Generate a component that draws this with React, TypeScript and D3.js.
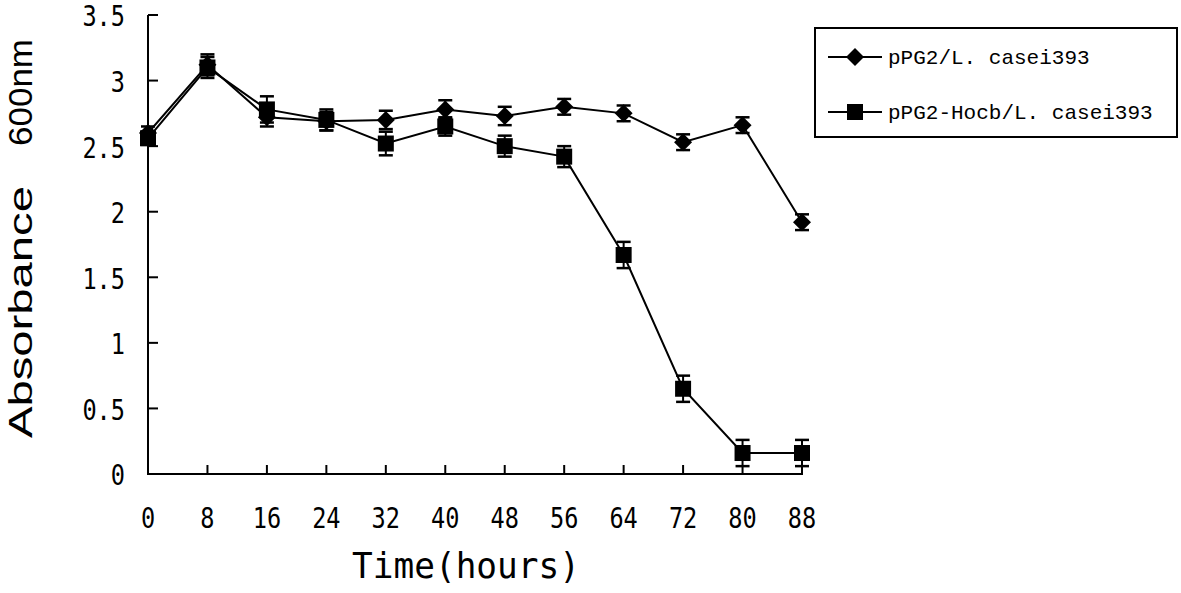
import React, { useEffect, useRef } from "react";
import * as d3 from "d3";

const hours = [0, 8, 16, 24, 32, 40, 48, 56, 64, 72, 80, 88];
const controlValues = [2.6, 3.12, 2.72, 2.69, 2.7, 2.78, 2.73, 2.8, 2.75, 2.53, 2.66, 1.92];
const controlErrors = [0.05, 0.08, 0.07, 0.07, 0.07, 0.07, 0.07, 0.06, 0.06, 0.06, 0.06, 0.06];
const hocbValues = [2.56, 3.1, 2.78, 2.7, 2.52, 2.65, 2.5, 2.42, 1.67, 0.65, 0.16, 0.16];
const hocbErrors = [0.05, 0.08, 0.1, 0.08, 0.09, 0.07, 0.08, 0.08, 0.1, 0.1, 0.1, 0.1];
const yTicks = [0, 0.5, 1, 1.5, 2, 2.5, 3, 3.5];
const yTickLabels = ["0", "0.5", "1", "1.5", "2", "2.5", "3", "3.5"];
const seriesNames = ["pPG2/L. casei393", "pPG2-Hocb/L. casei393"];
const xTitle = "Time(hours)";
const yTitleWords = ["Absorbance", "600nm"];

export default function App() {
  const ref = useRef<SVGSVGElement>(null);

  useEffect(() => {
    const svg = d3.select(ref.current);
    svg.selectAll("*").remove();

    const x = d3.scaleLinear().domain([0, 88]).range([148, 802]);
    const y = d3.scaleLinear().domain([0, 3.5]).range([474, 15]);
    const tickFont = "'DejaVu Sans Mono', monospace";
    const charW = 14.2;

    // axes lines
    svg.append("line").attr("x1", 148).attr("x2", 148).attr("y1", y(3.5)).attr("y2", y(0))
      .attr("stroke", "#000").attr("stroke-width", 2);
    svg.append("line").attr("x1", 147).attr("x2", x(88) + 1).attr("y1", y(0)).attr("y2", y(0))
      .attr("stroke", "#000").attr("stroke-width", 2);

    // y ticks
    yTicks.forEach((t, i) => {
      svg.append("line").attr("x1", 148).attr("x2", 158).attr("y1", y(t)).attr("y2", y(t))
        .attr("stroke", "#000").attr("stroke-width", 2);
      const lbl = yTickLabels[i];
      svg.append("text").attr("x", 125 - lbl.length * charW).attr("y", y(t) + 1).attr("dy", "0.36em")
        .attr("font-family", tickFont).attr("font-size", 29)
        .attr("textLength", lbl.length * charW).attr("lengthAdjust", "spacingAndGlyphs")
        .attr("fill", "#000").text(lbl);
    });

    // x ticks
    hours.forEach((h) => {
      svg.append("line").attr("x1", x(h)).attr("x2", x(h)).attr("y1", y(0)).attr("y2", y(0) - 9)
        .attr("stroke", "#000").attr("stroke-width", 2);
      const lbl = String(h);
      svg.append("text").attr("x", x(h) - (lbl.length * charW) / 2).attr("y", 518).attr("dy", "0.36em")
        .attr("font-family", tickFont).attr("font-size", 29)
        .attr("textLength", lbl.length * charW).attr("lengthAdjust", "spacingAndGlyphs")
        .attr("fill", "#000").text(lbl);
    });

    // titles
    svg.append("text").attr("x", 352).attr("y", 578)
      .attr("font-family", tickFont).attr("font-size", 36)
      .attr("textLength", 228).attr("lengthAdjust", "spacingAndGlyphs")
      .attr("fill", "#000").text(xTitle);

    const yTitleFont = "'Liberation Sans', Arial, sans-serif";
    svg.append("text").attr("transform", "translate(32,438) rotate(-90)")
      .attr("font-family", yTitleFont).attr("font-size", 33)
      .attr("textLength", 252).attr("lengthAdjust", "spacingAndGlyphs")
      .attr("fill", "#000").text(yTitleWords[0]);
    svg.append("text").attr("transform", "translate(32,146) rotate(-90)")
      .attr("font-family", yTitleFont).attr("font-size", 33)
      .attr("textLength", 107).attr("lengthAdjust", "spacingAndGlyphs")
      .attr("fill", "#000").text(yTitleWords[1]);

    const line = d3.line<number>().x((_, i) => x(hours[i])).y((d) => y(d));

    const drawSeries = (vals: number[], errs: number[], shape: "diamond" | "square") => {
      svg.append("path").attr("d", line(vals)!).attr("fill", "none")
        .attr("stroke", "#000").attr("stroke-width", 2);
      vals.forEach((v, i) => {
        const cx = x(hours[i]);
        const top = y(v + errs[i]);
        const bot = y(v - errs[i]);
        svg.append("line").attr("x1", cx).attr("x2", cx).attr("y1", top).attr("y2", bot)
          .attr("stroke", "#000").attr("stroke-width", 2);
        [top, bot].forEach((yy) => {
          svg.append("line").attr("x1", cx - 7).attr("x2", cx + 7).attr("y1", yy).attr("y2", yy)
            .attr("stroke", "#000").attr("stroke-width", 2.5);
        });
      });
      vals.forEach((v, i) => {
        const cx = x(hours[i]);
        const cy = y(v);
        if (shape === "square") {
          svg.append("rect").attr("x", cx - 8).attr("y", cy - 8).attr("width", 16).attr("height", 16)
            .attr("fill", "#000");
        } else {
          svg.append("path").attr("d", `M${cx},${cy - 9}L${cx + 9},${cy}L${cx},${cy + 9}L${cx - 9},${cy}Z`)
            .attr("fill", "#000");
        }
      });
    };

    drawSeries(controlValues, controlErrors, "diamond");
    drawSeries(hocbValues, hocbErrors, "square");

    // legend
    const lg = svg.append("g");
    lg.append("rect").attr("x", 815).attr("y", 28).attr("width", 362).attr("height", 109)
      .attr("fill", "#fff").attr("stroke", "#000").attr("stroke-width", 2);
    const rows = [57, 112];
    rows.forEach((ry, i) => {
      lg.append("line").attr("x1", 828).attr("x2", 882).attr("y1", ry).attr("y2", ry)
        .attr("stroke", "#000").attr("stroke-width", 2);
      if (i === 0) {
        lg.append("path").attr("d", `M855,${ry - 9}L864,${ry}L855,${ry + 9}L846,${ry}Z`).attr("fill", "#000");
      } else {
        lg.append("rect").attr("x", 847).attr("y", ry - 8).attr("width", 16).attr("height", 16).attr("fill", "#000");
      }
      lg.append("text").attr("x", 888).attr("y", ry).attr("dy", "0.35em")
        .attr("font-family", "'Liberation Mono', 'Courier New', monospace").attr("font-size", 21)
        .attr("fill", "#000").text(seriesNames[i]);
    });
  }, []);

  return (
    <div style={{ position: "absolute", left: 0, top: 0 }}>
      <svg ref={ref} width={1181} height={593} style={{ display: "block", background: "#fff" }} />
    </div>
  );
}
